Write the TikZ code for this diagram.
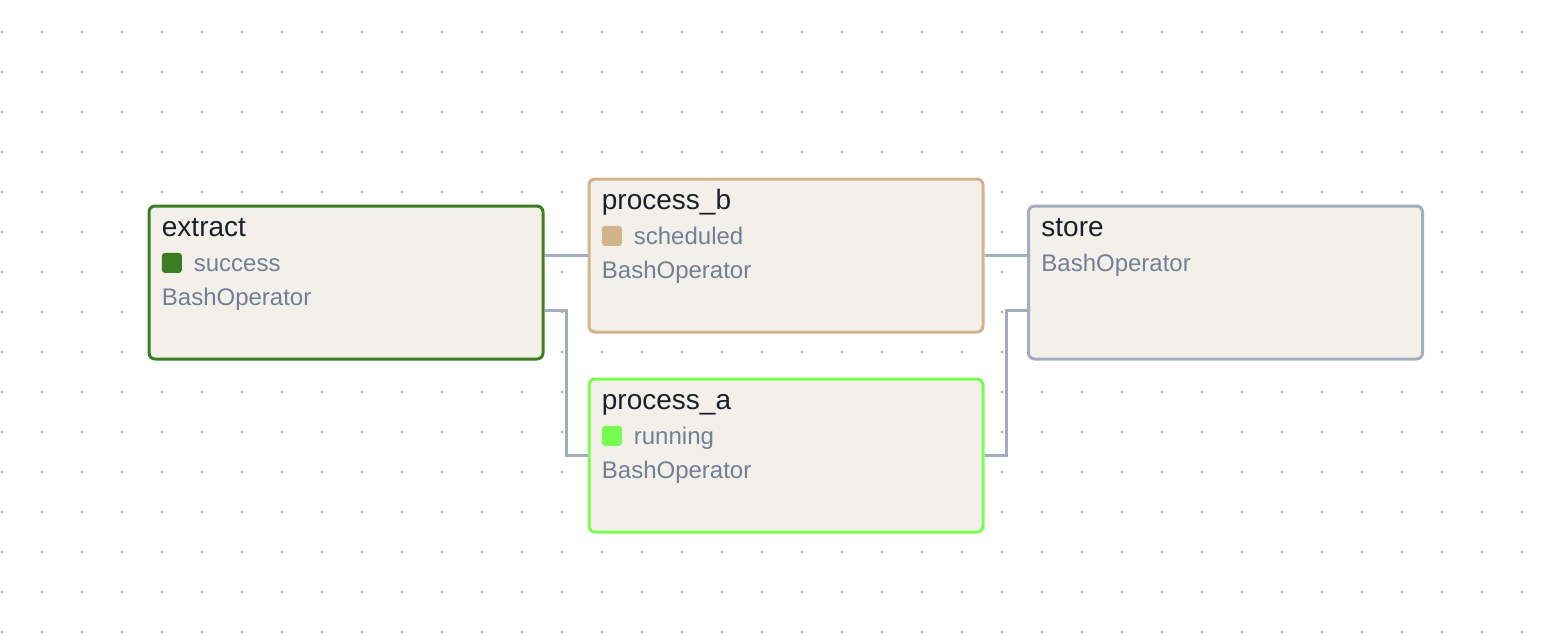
\documentclass[tikz,border=0pt]{standalone}
\usepackage{fontspec}
\setmainfont{Liberation Sans}
\usetikzlibrary{positioning}
\definecolor{successc}{HTML}{3B7D23}
\definecolor{schedc}{HTML}{D2B48C}
\definecolor{runc}{HTML}{77FF50}
\definecolor{edgec}{HTML}{A0AEC0}
\definecolor{boxfill}{HTML}{F3F0E9}
\definecolor{titlec}{HTML}{1A202C}
\definecolor{subc}{HTML}{718096}
\definecolor{dotc}{HTML}{ABABAB}
\begin{document}
\begin{tikzpicture}[x=0.5pt, y=-0.5pt,
	taskbox/.style={rectangle, rounded corners=3pt, line width=1.5pt, fill=boxfill, minimum width=197pt, minimum height=76.5pt, inner sep=0pt},
	tasktitle/.style={anchor=base west, inner sep=0pt, text=titlec, font=\fontsize{14}{16}\selectfont},
	tasksub/.style={anchor=base west, inner sep=0pt, text=subc, font=\fontsize{12}{14}\selectfont},
	statesq/.style={rectangle, rounded corners=1.5pt, anchor=north west, minimum size=10pt, inner sep=0pt},
	edge/.style={draw=edgec, line width=1.5pt}]

				\useasboundingbox (0,0) rectangle (1560,638);
				\foreach \x in {2,42,...,1522}
					\foreach \y in {32,72,...,632}
						\fill[dotc] (\x-1,\y-1) rectangle ++(2,2);

				% tasks
				\node[taskbox, draw=successc] (extract) at (346,282.5) {};
				\node[taskbox, draw=schedc] (processb) at (786,255.5) {};
				\node[taskbox, draw=runc] (processa) at (786,455.5) {};
				\node[taskbox, draw=edgec] (store) at (1225.5,282.5) {};

				\node[tasktitle] (extract-t) at ([xshift=7pt,yshift=-16pt]extract.north west) {extract};
				\node[statesq, fill=successc] (extract-sq) at ([xshift=7pt,yshift=-24pt]extract.north west) {};
				\node[tasksub] (extract-s) at ([xshift=23pt,yshift=-33.5pt]extract.north west) {success};
				\node[tasksub] (extract-o) at ([xshift=7pt,yshift=-50.5pt]extract.north west) {BashOperator};

				\node[tasktitle] (processb-t) at ([xshift=7pt,yshift=-16pt]processb.north west) {process\_b};
				\node[statesq, fill=schedc] (processb-sq) at ([xshift=7pt,yshift=-24pt]processb.north west) {};
				\node[tasksub] (processb-s) at ([xshift=23pt,yshift=-33.5pt]processb.north west) {scheduled};
				\node[tasksub] (processb-o) at ([xshift=7pt,yshift=-50.5pt]processb.north west) {BashOperator};

				\node[tasktitle] (processa-t) at ([xshift=7pt,yshift=-16pt]processa.north west) {process\_a};
				\node[statesq, fill=runc] (processa-sq) at ([xshift=7pt,yshift=-24pt]processa.north west) {};
				\node[tasksub] (processa-s) at ([xshift=23pt,yshift=-33.5pt]processa.north west) {running};
				\node[tasksub] (processa-o) at ([xshift=7pt,yshift=-50.5pt]processa.north west) {BashOperator};

				\node[tasktitle] (store-t) at ([xshift=7pt,yshift=-16pt]store.north west) {store};
				\node[tasksub] (store-o) at ([xshift=7pt,yshift=-33.5pt]store.north west) {BashOperator};

				% dependencies
				\draw[edge] (extract.east |- processb.west) -- (processb.west);
				\draw[edge] ([yshift=-13.75pt]extract.east) -- ++(11pt,0) |- (processa.west);
				\draw[edge] (processb.east) -- (processb.east -| store.west);
				\draw[edge] (processa.east) -- ++(11pt,0) |- ([yshift=-13.75pt]store.west);
			\end{tikzpicture}
\end{document}
